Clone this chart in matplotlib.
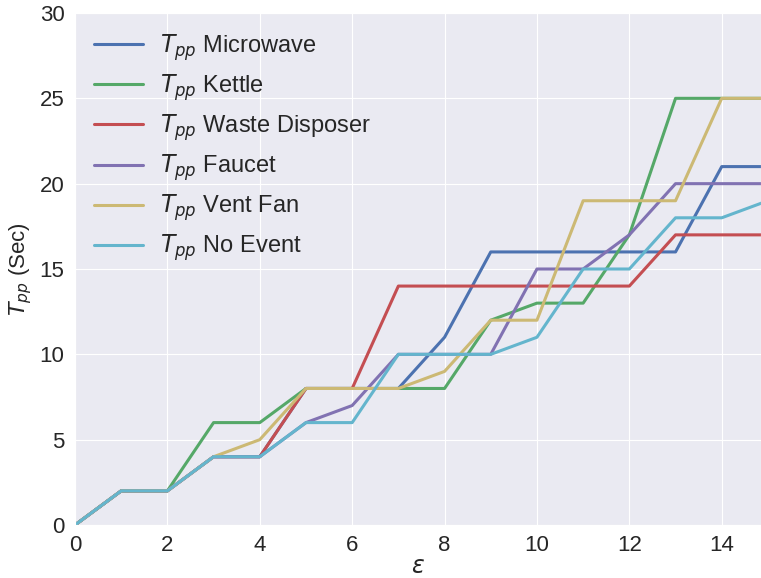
import matplotlib
matplotlib.use('Agg')
import matplotlib.pyplot as plt
import seaborn as sns
import numpy as np

# epsilon values and T_pp (sec) per appliance
eps = np.arange(16)
microwave = [0, 2, 2, 4, 4, 8, 8, 8, 11, 16, 16, 16, 16, 16, 21, 21]
kettle = [0, 2, 2, 6, 6, 8, 8, 8, 8, 12, 13, 13, 17, 25, 25, 25]
disposer = [0, 2, 2, 4, 4, 8, 8, 14, 14, 14, 14, 14, 14, 17, 17, 17]
faucet = [0, 2, 2, 4, 4, 6, 7, 10, 10, 10, 15, 15, 17, 20, 20, 20]
ventfan = [0, 2, 2, 4, 5, 8, 8, 8, 9, 12, 12, 19, 19, 19, 25, 25]
noevent = [0, 2, 2, 4, 4, 6, 6, 10, 10, 10, 11, 15, 15, 18, 18, 19]

names = ['Microwave', 'Kettle', 'Waste Disposer', 'Faucet', 'Vent Fan', 'No Event']
series = [microwave, kettle, disposer, faucet, ventfan, noevent]
colors = ['#4C72B0', '#55A868', '#C44E52', '#8172B2', '#CCB974', '#64B5CD']

sns.set_style('darkgrid')
plt.rcParams['font.family'] = ['Liberation Sans', 'DejaVu Sans']
plt.rcParams['mathtext.fontset'] = 'dejavusans'

fig = plt.figure(figsize=(7.61, 5.78), dpi=100)
ax = fig.add_axes([75/761, 53/578, 1 - 75/761, 512/578])

for name, vals, c in zip(names, series, colors):
    ax.plot(eps, vals, color=c, lw=2.2, label=r'$T_{pp}$ ' + name)

ax.set_xlim(0, 14.85)
ax.set_ylim(0, 30)
ax.set_xticks(np.arange(0, 15, 2))
ax.set_yticks(np.arange(0, 31, 5))
ax.tick_params(labelsize=16, pad=4)

ax.set_xlabel(r'$\varepsilon$', fontsize=17, labelpad=0)
ax.set_ylabel(r'$T_{pp}$ (Sec)', fontsize=16, labelpad=4)

#legend top left, no frame
ax.legend(loc='upper left', fontsize=17, frameon=False, handlelength=2.1,
          borderaxespad=0.4, labelspacing=0.4, handletextpad=0.7)

plt.savefig('out.png', dpi=100)
